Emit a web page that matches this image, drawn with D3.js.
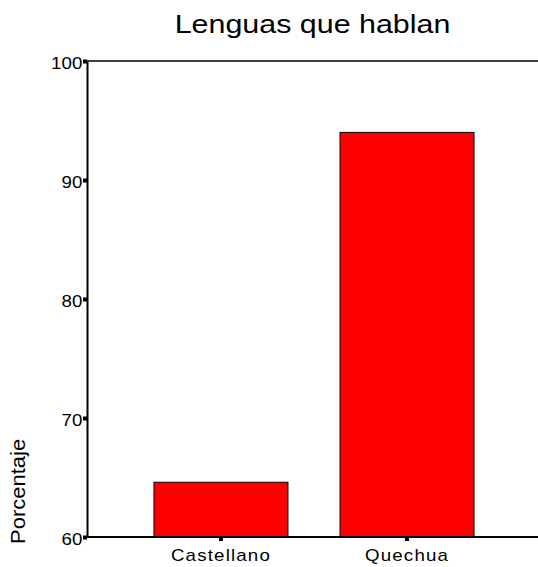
<!DOCTYPE html>
<html>
<head>
<meta charset="utf-8">
<script src="https://cdn.jsdelivr.net/npm/d3@7"></script>
<style>
  html, body { margin: 0; padding: 0; background: #fff; }
  svg { display: block; font-family: Arial, "Liberation Sans", sans-serif; }
</style>
</head>
<body>
<svg id="chart" width="538" height="567"></svg>
<script>
const categories = ["Castellano", "Quechua"];
const values = [64.6, 94.0];
const yTicks = [60, 70, 80, 90, 100];
const title = "Lenguas que hablan";
const yLabel = "Porcentaje";

(function () {
const svg = d3.select("#chart");
const mLeft = 87, mTop = 61, mBottom = 537, rightEdge = 538;
const FONT = "Arial, 'Liberation Sans', sans-serif";
const STRETCH = 1.17;

const x = d3.scaleBand().domain(categories).range([mLeft, 541]).paddingInner(0.28).paddingOuter(0.36);
const y = d3.scaleLinear().domain([60, 100]).range([mBottom, mTop]);

// title
svg.append("text").attr("transform", `translate(312.5,33) scale(${STRETCH},1)`)
  .attr("text-anchor", "middle").attr("font-size", 26).attr("fill", "#000").text(title);

// y label
svg.append("text").attr("transform", "translate(25,544) rotate(-90) scale(1.1,1)")
  .attr("text-anchor", "start").attr("font-size", 20)
  .attr("fill", "#000").text(yLabel);

// bars
svg.selectAll("rect.bar").data(categories).enter().append("rect")
  .attr("class", "bar")
  .attr("x", d => x(d))
  .attr("width", x.bandwidth())
  .attr("y", (d, i) => y(values[i]))
  .attr("height", (d, i) => y(60) - y(values[i]))
  .attr("fill", "#ff0000").attr("stroke", "#000").attr("stroke-width", 1);

// frame top line
svg.append("line").attr("x1", mLeft).attr("x2", rightEdge).attr("y1", mTop).attr("y2", mTop)
  .attr("stroke", "#000").attr("stroke-width", 1.5);

// y axis
const yAxis = svg.append("g").attr("transform", `translate(${mLeft},0)`)
  .call(d3.axisLeft(y).tickValues(yTicks).tickSize(0).tickPadding(4).tickFormat(d3.format("d")));
yAxis.select(".domain").attr("stroke", "#000").attr("stroke-width", 2);
yAxis.selectAll("text").attr("font-size", 16).attr("fill", "#000")
  .attr("dy", "0.45em").attr("font-family", FONT).attr("transform", `scale(${STRETCH},1)`);
yAxis.selectAll(".tick").append("rect").attr("x", -4).attr("y", -2).attr("width", 4).attr("height", 4).attr("fill", "#000");

// x axis
const xAxis = svg.append("g").attr("transform", `translate(0,${mBottom})`)
  .call(d3.axisBottom(x).tickSize(0).tickPadding(13));
xAxis.select(".domain").remove();
svg.append("line").attr("x1", mLeft - 3).attr("x2", rightEdge).attr("y1", mBottom).attr("y2", mBottom)
  .attr("stroke", "#000").attr("stroke-width", 2);
xAxis.selectAll("text").attr("font-size", 16).attr("fill", "#000").attr("letter-spacing", 1)
  .attr("font-family", FONT).attr("transform", `scale(${STRETCH},1)`);
xAxis.selectAll(".tick").append("rect").attr("x", -2).attr("y", 0).attr("width", 4).attr("height", 4).attr("fill", "#000");
})();
</script>
</body>
</html>
